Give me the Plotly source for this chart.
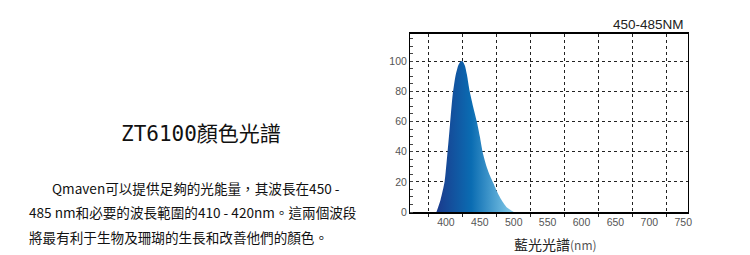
import plotly.graph_objects as go

# Spectrum data
wavelength = [386, 392, 398, 402, 406, 410, 414, 418, 421, 424.5, 428, 431, 435, 440,
              446, 450, 454, 460, 465, 470, 476, 482, 490, 500]
intensity = [0, 8, 20, 38, 58, 78, 90, 97, 99.5, 100, 97, 91, 80, 70,
             59, 50, 40, 30, 24, 19, 13, 8, 3, 0]

x_tick_vals = [400, 450, 500, 550, 600, 650, 700, 750]
x_grid_vals = [375, 425, 475, 525, 575, 625, 675, 725]
y_tick_vals = [0, 20, 40, 60, 80, 100]

chart_title = "450-485NM"
x_title = "藍光光譜"
left_title = "ZT6100顏色光譜"
para_lines = [
    "Qmaven可以提供足夠的光能量，其波長在450 -",
    "485 nm和必要的波長範圍的410 - 420nm。這兩個波段",
    "將最有利于生物及珊瑚的生長和改善他們的顏色。",
]

W, H = 750, 255
L, R, T, B = 410, 688, 34, 212
pw, ph = R - L, B - T

def px(x):
    return (x - L) / pw

def py(y):
    return (B - y) / ph

fig = go.Figure()
fig.add_trace(go.Scatter(
    x=wavelength, y=intensity, mode="lines",
    line=dict(width=0, shape="spline", smoothing=0.6),
    fill="tozeroy",
    fillgradient=dict(type="horizontal",
                      colorscale=[[0, "#1b3a8c"], [0.45, "#0a6cb2"], [1, "#86cdea"]]),
    hoverinfo="skip", showlegend=False,
))

fig.update_layout(
    width=W, height=H,
    margin=dict(l=L, r=W - R, t=T, b=H - B),
    paper_bgcolor="white", plot_bgcolor="white",
    font=dict(family="Arial, Liberation Sans, Noto Sans CJK TC", size=10, color="#555"),
    xaxis=dict(
        range=[347, 757], tickvals=x_tick_vals, ticktext=[str(v) for v in x_tick_vals],
        showgrid=False, zeroline=False, showline=True, linecolor="black", linewidth=1.5,
        mirror=True, ticks="", tickfont=dict(size=10.5, color="#555"),
        minor=dict(tickvals=x_grid_vals, showgrid=True, griddash="dot",
                   gridcolor="#222", gridwidth=1, ticks="outside", ticklen=3, tickcolor="#222"),
    ),
    yaxis=dict(
        range=[0, 118], tickvals=y_tick_vals, showgrid=True, griddash="dot",
        gridcolor="#222", gridwidth=1, zeroline=False, showline=True, linecolor="black",
        linewidth=1, mirror=True, ticks="", tickfont=dict(size=10.5, color="#555"),
        minor=dict(dtick=5, tick0=0, ticks="inside", ticklen=3, tickcolor="#444", showgrid=False),
    ),
)

ann = []
ann.append(dict(text=chart_title, x=px(686), y=py(24), xref="paper", yref="paper",
                xanchor="right", yanchor="middle", showarrow=False,
                font=dict(size=13.5, color="#222", family="Arial, Liberation Sans")))
ann.append(dict(text=x_title + "<span style='font-size:12px;color:#555'>(nm)</span>",
                x=px(555), y=py(244), xref="paper", yref="paper",
                xanchor="center", yanchor="middle", showarrow=False,
                font=dict(size=14, color="#222", family="Noto Sans CJK TC")))
ann.append(dict(text=left_title, x=px(201), y=py(134), xref="paper", yref="paper",
                xanchor="center", yanchor="middle", showarrow=False,
                font=dict(size=21, color="#111", family="DejaVu Sans Mono, Noto Sans CJK TC")))
starts = [50, 27, 27]
ys = [188, 212, 237]
for t, sx, yy in zip(para_lines, starts, ys):
    ann.append(dict(text=t, x=px(sx), y=py(yy), xref="paper", yref="paper",
                    xanchor="left", yanchor="middle", showarrow=False,
                    font=dict(size=13.6, color="#111", family="Noto Sans CJK TC")))
fig.update_layout(annotations=ann)

fig.write_html("out.html")
